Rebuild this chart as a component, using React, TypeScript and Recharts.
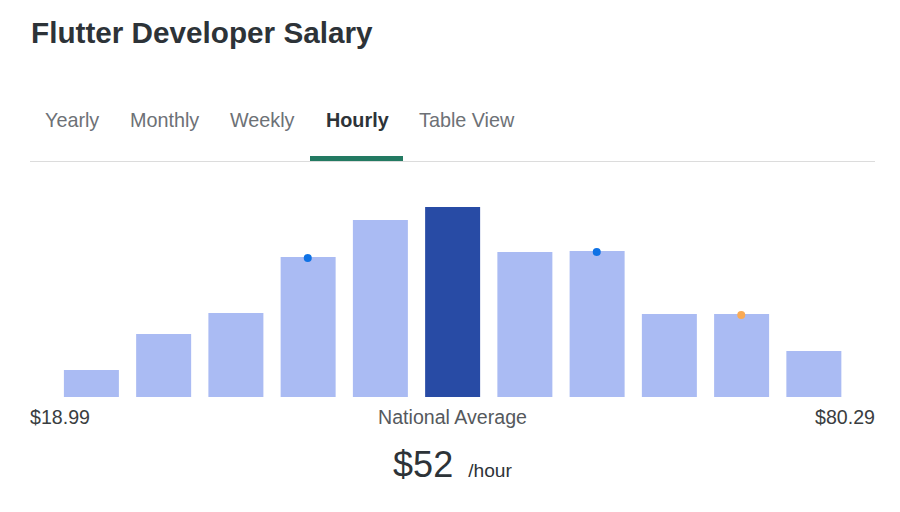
import React from "react";
import { Bar, Cell, ComposedChart, Line, XAxis, YAxis } from "recharts";

// pay bands, left to right ($18.99 .. $80.29 per hour)
const bands = ["b1", "b2", "b3", "b4", "b5", "b6", "b7", "b8", "b9", "b10", "b11"];
const counts = [27, 63, 84, 140, 177, 190, 145, 146, 83, 83, 46];
const blueMarks = [null, null, null, 139, null, null, null, 145, null, null, null];
const orangeMarks = [null, null, null, null, null, null, null, null, null, 82, null];
const averageIndex = 5;

const tabs = ["Yearly", "Monthly", "Weekly", "Hourly", "Table View"];
const tabX = [45, 130, 230, 326, 419];
const activeTab = "Hourly";

const minLabel = "$18.99";
const maxLabel = "$80.29";
const averageLabel = "National Average";
const averageValue = "$52";
const unitLabel = "/hour";

const data = bands.map((name, i) => ({
  name,
  count: counts[i],
  blue: blueMarks[i],
  orange: orangeMarks[i],
}));

const FONT = "Arial, 'Liberation Sans', Helvetica, sans-serif";

export default function App() {
  return (
    <div
      style={{
        position: "absolute",
        left: 0,
        top: 0,
        width: 900,
        height: 512,
        background: "#fff",
        fontFamily: FONT,
      }}
    >
      <svg
        width={900}
        height={512}
        style={{ position: "absolute", left: 0, top: 0 }}
        fontFamily={FONT}
      >
        <text x={31} y={43} fontSize={29.7} fontWeight="bold" fill="#2d3338">
          Flutter Developer Salary
        </text>
        {tabs.map((t, i) => (
          <text
            key={t}
            x={tabX[i]}
            y={127}
            fontSize={19.8}
            fontWeight={t === activeTab ? "bold" : "normal"}
            fill={t === activeTab ? "#2d3338" : "#6d7176"}
          >
            {t}
          </text>
        ))}
        <rect x={30} y={161} width={845} height={1} fill="#dcdcdc" />
        <rect x={310} y={156} width={93} height={5} fill="#237a62" />

        <text x={30} y={424} fontSize={19.6} fill="#3a3d40">
          {minLabel}
        </text>
        <text x={452.5} y={424} fontSize={19.6} fill="#55595d" textAnchor="middle">
          {averageLabel}
        </text>
        <text x={875} y={424} fontSize={19.6} fill="#3a3d40" textAnchor="end">
          {maxLabel}
        </text>
        <text x={452.5} y={477} textAnchor="middle" fill="#2d3338">
          <tspan fontSize={36}>{averageValue}</tspan>
          <tspan fontSize={19.2} dx={15}>
            {unitLabel}
          </tspan>
        </text>
      </svg>

      <div style={{ position: "absolute", left: 0, top: 190 }}>
        <ComposedChart
          width={900}
          height={220}
          data={data}
          margin={{ top: 7, right: 50.4, bottom: 13, left: 54.9 }}
        >
          <XAxis dataKey="name" hide />
          <YAxis hide domain={[0, 200]} />
          <Bar dataKey="count" barSize={55} isAnimationActive={false}>
            {data.map((d, i) => (
              <Cell key={d.name} fill={i === averageIndex ? "#284ba5" : "#aabbf3"} />
            ))}
          </Bar>
          <Line
            dataKey="blue"
            stroke="none"
            dot={{ r: 4, fill: "#0f72e5", stroke: "none" }}
            activeDot={false}
            isAnimationActive={false}
          />
          <Line
            dataKey="orange"
            stroke="none"
            dot={{ r: 4, fill: "#f9aa55", stroke: "none" }}
            activeDot={false}
            isAnimationActive={false}
          />
        </ComposedChart>
      </div>
    </div>
  );
}
